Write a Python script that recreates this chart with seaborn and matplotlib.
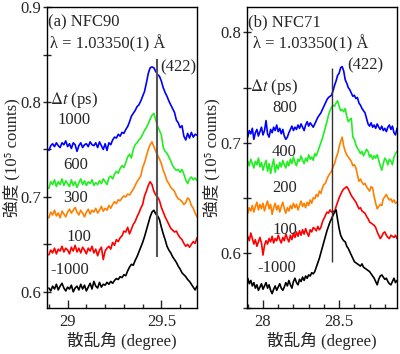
import numpy as np
import pandas as pd
import seaborn as sns
import matplotlib
matplotlib.use("Agg")
import matplotlib.pyplot as plt
from matplotlib.ticker import MultipleLocator, FuncFormatter

# ---- data: (a) NFC90 ----
angle_a = np.round(np.arange(28.90, 29.695, 0.01), 2)
nfc90_1000 = [0.749, 0.754, 0.756, 0.753, 0.757, 0.754, 0.752, 0.757, 0.755, 0.759,
              0.753, 0.756, 0.751, 0.757, 0.755, 0.748, 0.754, 0.757, 0.752, 0.755,
              0.756, 0.753, 0.758, 0.755, 0.754, 0.757, 0.752, 0.758, 0.754, 0.750,
              0.756, 0.749, 0.757, 0.755, 0.760, 0.763, 0.762, 0.766, 0.764, 0.768,
              0.767, 0.771, 0.774, 0.779, 0.785, 0.788, 0.791, 0.795, 0.797, 0.801,
              0.806, 0.811, 0.820, 0.830, 0.836, 0.837, 0.836, 0.832, 0.829, 0.827,
              0.822, 0.815, 0.810, 0.806, 0.801, 0.797, 0.793, 0.789, 0.781, 0.778,
              0.773, 0.775, 0.764, 0.760, 0.767, 0.762, 0.768, 0.763, 0.766, 0.765]
nfc90_600 = [0.709, 0.716, 0.713, 0.718, 0.711, 0.716, 0.713, 0.719, 0.712, 0.717,
             0.714, 0.711, 0.718, 0.712, 0.716, 0.710, 0.715, 0.719, 0.713, 0.717,
             0.712, 0.716, 0.714, 0.718, 0.712, 0.715, 0.713, 0.717, 0.714, 0.719,
             0.716, 0.713, 0.720, 0.722, 0.719, 0.724, 0.727, 0.725, 0.730, 0.733,
             0.731, 0.736, 0.742, 0.745, 0.741, 0.750, 0.755, 0.757, 0.760, 0.762,
             0.766, 0.770, 0.773, 0.777, 0.782, 0.786, 0.788, 0.781, 0.774, 0.770,
             0.765, 0.752, 0.748, 0.746, 0.742, 0.738, 0.733, 0.730, 0.728, 0.729,
             0.726, 0.729, 0.724, 0.718, 0.714, 0.719, 0.721, 0.718, 0.720, 0.717]
nfc90_300 = [0.678, 0.684, 0.681, 0.686, 0.680, 0.683, 0.678, 0.685, 0.682, 0.679,
             0.684, 0.687, 0.683, 0.686, 0.689, 0.684, 0.681, 0.686, 0.683, 0.679,
             0.684, 0.687, 0.682, 0.686, 0.684, 0.688, 0.683, 0.686, 0.690, 0.685,
             0.688, 0.686, 0.691, 0.688, 0.692, 0.695, 0.693, 0.697, 0.696, 0.699,
             0.701, 0.700, 0.703, 0.702, 0.705, 0.708, 0.712, 0.716, 0.719, 0.722,
             0.731, 0.736, 0.743, 0.750, 0.755, 0.758, 0.753, 0.748, 0.744, 0.740,
             0.735, 0.728, 0.723, 0.717, 0.714, 0.710, 0.708, 0.706, 0.701, 0.698,
             0.697, 0.695, 0.692, 0.694, 0.699, 0.697, 0.691, 0.688, 0.683, 0.679]
nfc90_100 = [0.639, 0.644, 0.641, 0.646, 0.640, 0.645, 0.643, 0.648, 0.642, 0.646,
             0.644, 0.640, 0.647, 0.643, 0.649, 0.642, 0.646, 0.641, 0.647, 0.644,
             0.640, 0.646, 0.643, 0.648, 0.641, 0.645, 0.638, 0.644, 0.647, 0.634,
             0.643, 0.646, 0.648, 0.645, 0.652, 0.649, 0.655, 0.653, 0.657, 0.659,
             0.664, 0.663, 0.668, 0.661, 0.666, 0.671, 0.674, 0.679, 0.683, 0.688,
             0.692, 0.701, 0.706, 0.712, 0.716, 0.713, 0.706, 0.702, 0.700, 0.696,
             0.689, 0.684, 0.679, 0.675, 0.671, 0.667, 0.665, 0.663, 0.664, 0.660,
             0.657, 0.655, 0.651, 0.648, 0.650, 0.647, 0.650, 0.653, 0.651, 0.657]
nfc90_m1000 = [0.604, 0.601, 0.606, 0.603, 0.608, 0.602, 0.606, 0.609, 0.604, 0.601,
               0.605, 0.603, 0.607, 0.600, 0.604, 0.606, 0.602, 0.608, 0.603, 0.607,
               0.601, 0.605, 0.609, 0.603, 0.611, 0.606, 0.604, 0.610, 0.605, 0.608,
               0.607, 0.610, 0.608, 0.611, 0.609, 0.612, 0.614, 0.613, 0.616, 0.615,
               0.618, 0.617, 0.622, 0.626, 0.629, 0.628, 0.633, 0.637, 0.642, 0.647,
               0.652, 0.658, 0.665, 0.672, 0.679, 0.684, 0.686, 0.682, 0.680, 0.676,
               0.668, 0.661, 0.655, 0.648, 0.644, 0.641, 0.637, 0.634, 0.631, 0.627,
               0.624, 0.620, 0.618, 0.616, 0.613, 0.611, 0.608, 0.605, 0.602, 0.606]

# ---- data: (b) NFC71 ----
angle_b = np.round(np.arange(27.90, 28.885, 0.01), 2)
nfc71_800 = [0.705, 0.711, 0.708, 0.713, 0.703, 0.709, 0.712, 0.706, 0.710, 0.714,
             0.707, 0.711, 0.720, 0.708, 0.705, 0.712, 0.709, 0.714, 0.711, 0.716,
             0.710, 0.713, 0.708, 0.712, 0.706, 0.703, 0.705, 0.709, 0.712, 0.715,
             0.711, 0.714, 0.712, 0.716, 0.713, 0.717, 0.714, 0.711, 0.716, 0.719,
             0.715, 0.718, 0.716, 0.714, 0.717, 0.720, 0.723, 0.725, 0.727, 0.730,
             0.733, 0.736, 0.739, 0.741, 0.742, 0.743, 0.747, 0.752, 0.756, 0.761,
             0.763, 0.768, 0.769, 0.765, 0.757, 0.754, 0.750, 0.748, 0.745, 0.742,
             0.743, 0.740, 0.741, 0.736, 0.734, 0.731, 0.729, 0.727, 0.722, 0.717,
             0.715, 0.718, 0.714, 0.716, 0.713, 0.717, 0.714, 0.712, 0.715, 0.711,
             0.713, 0.710, 0.714, 0.716, 0.712, 0.715, 0.709, 0.707, 0.713]
nfc71_400 = [0.683, 0.679, 0.685, 0.681, 0.677, 0.683, 0.680, 0.686, 0.678, 0.682,
             0.675, 0.680, 0.684, 0.674, 0.681, 0.672, 0.679, 0.685, 0.673, 0.680,
             0.676, 0.682, 0.678, 0.684, 0.680, 0.677, 0.683, 0.679, 0.685, 0.681,
             0.687, 0.682, 0.679, 0.685, 0.683, 0.688, 0.684, 0.681, 0.686, 0.683,
             0.689, 0.685, 0.687, 0.684, 0.690, 0.688, 0.692, 0.696, 0.700, 0.704,
             0.709, 0.714, 0.719, 0.725, 0.729, 0.732, 0.734, 0.733, 0.736, 0.738,
             0.733, 0.729, 0.730, 0.728, 0.731, 0.724, 0.719, 0.721, 0.722, 0.705,
             0.703, 0.698, 0.695, 0.693, 0.690, 0.692, 0.688, 0.691, 0.694, 0.692,
             0.687, 0.689, 0.685, 0.688, 0.686, 0.689, 0.684, 0.679, 0.675, 0.681,
             0.686, 0.684, 0.680, 0.685, 0.683, 0.680, 0.687, 0.690, 0.692]
nfc71_200 = [0.636, 0.641, 0.638, 0.643, 0.637, 0.642, 0.646, 0.639, 0.644, 0.640,
             0.645, 0.638, 0.643, 0.647, 0.640, 0.644, 0.635, 0.641, 0.645, 0.639,
             0.643, 0.637, 0.642, 0.646, 0.640, 0.636, 0.641, 0.638, 0.643, 0.640,
             0.645, 0.641, 0.644, 0.639, 0.643, 0.647, 0.642, 0.645, 0.641, 0.646,
             0.643, 0.648, 0.645, 0.650, 0.649, 0.653, 0.651, 0.656, 0.654, 0.659,
             0.662, 0.663, 0.667, 0.670, 0.672, 0.674, 0.678, 0.681, 0.686, 0.690,
             0.696, 0.701, 0.705, 0.697, 0.692, 0.689, 0.687, 0.685, 0.683, 0.679,
             0.680, 0.677, 0.671, 0.665, 0.667, 0.664, 0.662, 0.663, 0.660, 0.658,
             0.656, 0.660, 0.659, 0.651, 0.645, 0.640, 0.642, 0.644, 0.643, 0.649,
             0.651, 0.653, 0.650, 0.648, 0.649, 0.646, 0.648, 0.645, 0.646]
nfc71_100 = [0.615, 0.611, 0.618, 0.613, 0.608, 0.612, 0.606, 0.610, 0.614, 0.609,
             0.598, 0.607, 0.611, 0.608, 0.613, 0.610, 0.615, 0.609, 0.613, 0.611,
             0.616, 0.612, 0.609, 0.614, 0.611, 0.617, 0.613, 0.610, 0.616, 0.612,
             0.618, 0.614, 0.619, 0.615, 0.620, 0.616, 0.621, 0.617, 0.622, 0.618,
             0.615, 0.621, 0.619, 0.623, 0.622, 0.620, 0.624, 0.621, 0.623, 0.628,
             0.631, 0.634, 0.637, 0.636, 0.639, 0.637, 0.638, 0.637, 0.642, 0.646,
             0.650, 0.653, 0.656, 0.658, 0.659, 0.660, 0.658, 0.655, 0.652, 0.650,
             0.648, 0.646, 0.643, 0.640, 0.641, 0.638, 0.637, 0.636, 0.633, 0.631,
             0.628, 0.627, 0.626, 0.625, 0.623, 0.619, 0.616, 0.613, 0.615, 0.618,
             0.619, 0.616, 0.614, 0.613, 0.616, 0.615, 0.614, 0.616, 0.613]
nfc71_m1000 = [0.577, 0.572, 0.575, 0.570, 0.573, 0.568, 0.571, 0.566, 0.569, 0.572,
               0.567, 0.570, 0.573, 0.568, 0.571, 0.566, 0.563, 0.567, 0.570, 0.566,
               0.569, 0.572, 0.568, 0.566, 0.569, 0.573, 0.570, 0.575, 0.571, 0.568,
               0.574, 0.577, 0.573, 0.571, 0.576, 0.574, 0.578, 0.575, 0.579, 0.577,
               0.580, 0.579, 0.582, 0.581, 0.583, 0.587, 0.591, 0.595, 0.600, 0.605,
               0.610, 0.615, 0.620, 0.624, 0.628, 0.631, 0.634, 0.637, 0.639, 0.630,
               0.622, 0.616, 0.613, 0.611, 0.610, 0.606, 0.604, 0.601, 0.598, 0.595,
               0.592, 0.591, 0.590, 0.589, 0.588, 0.590, 0.587, 0.586, 0.585, 0.584,
               0.583, 0.581, 0.579, 0.577, 0.574, 0.571, 0.576, 0.579, 0.580, 0.578,
               0.576, 0.577, 0.574, 0.572, 0.571, 0.574, 0.577, 0.573, 0.575]

# (422) peak marker lines
peak_a, peak_a_span = 29.478, (0.637, 0.845)
peak_b, peak_b_span = 28.45, (0.592, 0.768)

colors = ["blue", "#22ee22", "#ff8000", "red", "black"]

sns.set_style("ticks")
plt.rcParams['font.family'] = ['Liberation Serif', 'Noto Sans CJK JP', 'DejaVu Sans']
plt.rcParams['mathtext.fontset'] = 'stix'
plt.rcParams['font.size'] = 12

fig = plt.figure(figsize=(4.0, 3.54), dpi=100)
ax_a = fig.add_axes([0.1175, 0.13, 0.375, 0.85])
ax_b = fig.add_axes([0.6175, 0.13, 0.375, 0.85])

panels = [
    (ax_a, angle_a, [nfc90_1000, nfc90_600, nfc90_300, nfc90_100, nfc90_m1000],
     ["1000", "600", "300", "100", "-1000"]),
    (ax_b, angle_b, [nfc71_800, nfc71_400, nfc71_200, nfc71_100, nfc71_m1000],
     ["800", "400", "200", "100", "-1000"]),
]

for ax, angle, series, names in panels:
    for ys, c in zip(series, colors):
        sns.lineplot(x=angle, y=ys, color=c, lw=1.2, ax=ax)

ax_a.vlines(peak_a, *peak_a_span, color="#555555", lw=1.5)
ax_b.vlines(peak_b, *peak_b_span, color="#333333", lw=1.0)

ax_a.set_xlim(28.89, 29.69)
ax_a.set_ylim(0.583, 0.9)
ax_b.set_xlim(27.895, 28.88)
ax_b.set_ylim(0.55, 0.823)

for ax in (ax_a, ax_b):
    ax.xaxis.set_major_locator(MultipleLocator(0.5))
    ax.xaxis.set_minor_locator(MultipleLocator(0.1))
    ax.yaxis.set_major_locator(MultipleLocator(0.1))
    ax.yaxis.set_minor_locator(MultipleLocator(0.05))
    ax.xaxis.set_major_formatter(FuncFormatter(lambda v, p: f"{v:g}"))
    ax.yaxis.set_major_formatter(FuncFormatter(lambda v, p: f"{v:g}"))
    ax.tick_params(axis='x', which='major', direction='in', length=6, width=1, labelsize=12, pad=4)
    ax.tick_params(axis='x', which='minor', direction='in', length=3, width=1)
    ax.tick_params(axis='y', which='major', direction='inout', length=6, width=1, labelsize=12, pad=1)
    ax.tick_params(axis='y', which='minor', direction='inout', length=6, width=1)
    for s in ax.spines.values():
        s.set_linewidth(1.0)
        s.set_color("black")
    ax.set_xlabel("散乱角 (degree)", fontsize=12, labelpad=2)
    ax.set_ylabel("強度 (10⁵ counts)", fontsize=12, labelpad=0)

fs = 12
# panel (a) annotations
ax_a.text(0.007, 0.950, "(a) NFC90", transform=ax_a.transAxes, fontsize=fs, va="center")
ax_a.text(0.02, 0.877, "λ = 1.03350(1) Å", transform=ax_a.transAxes, fontsize=fs, va="center")
ax_a.text(0.753, 0.80, "(422)", transform=ax_a.transAxes, fontsize=fs, va="center")
ax_a.text(0.02, 0.691, r"$\mathit{\Delta t}$ (ps)", transform=ax_a.transAxes, fontsize=fs, va="center")
for name, (xf, yf) in zip(panels[0][3], [(0.067, 0.625), (0.107, 0.475), (0.107, 0.365),
                                           (0.133, 0.236), (0.02, 0.126)]):
    ax_a.text(xf, yf, name, transform=ax_a.transAxes, fontsize=fs, va="center")

# panel (b) annotations
ax_b.text(0.007, 0.950, "(b) NFC71", transform=ax_b.transAxes, fontsize=fs, va="center")
ax_b.text(0.04, 0.880, "λ = 1.03350(1) Å", transform=ax_b.transAxes, fontsize=fs, va="center")
ax_b.text(0.667, 0.807, "(422)", transform=ax_b.transAxes, fontsize=fs, va="center")
ax_b.text(0.02, 0.734, r"$\mathit{\Delta t}$ (ps)", transform=ax_b.transAxes, fontsize=fs, va="center")
for name, (xf, yf) in zip(panels[1][3], [(0.167, 0.664), (0.167, 0.518), (0.167, 0.399),
                                           (0.173, 0.259), (0.067, 0.133)]):
    ax_b.text(xf, yf, name, transform=ax_b.transAxes, fontsize=fs, va="center")

fig.savefig("out.png", dpi=100)
